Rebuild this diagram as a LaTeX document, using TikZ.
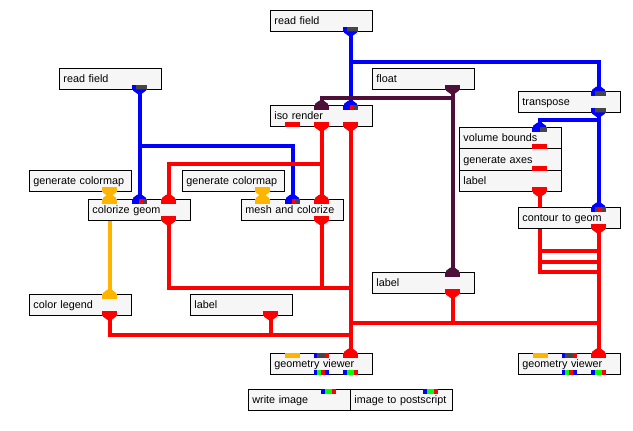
\documentclass[tikz,border=0pt]{standalone}
\usepackage{fontspec}
\setmainfont{Liberation Sans}
\usetikzlibrary{calc}
\pgfdeclarelayer{bg}
\pgfdeclarelayer{wires}
\pgfsetlayers{bg,wires,main}
\definecolor{pblue}{RGB}{0,0,255}
\definecolor{pred}{RGB}{255,0,0}
\definecolor{ppurple}{RGB}{77,16,56}
\definecolor{porange}{RGB}{255,180,0}
\definecolor{pgrey}{RGB}{70,70,70}
\definecolor{pgreen}{RGB}{0,255,0}
\definecolor{boxfill}{RGB}{246,246,246}
\tikzset{
  box/.style={draw=black, line width=0.9pt, fill=boxfill, anchor=north west,
    minimum height=20.5pt, inner xsep=4pt, inner ysep=0pt, text width=94pt,
    text height=9pt, text depth=1pt, align=left, font=\fontsize{10.8}{12}\selectfont},
  wire/.style={line width=4pt, line join=miter},
}
\newcommand\portBot[4]{\fill[#1] ($(#2.south west)+(#3,-4.5)$) rectangle ($(#2.south west)+(#4,0.4)$);}
\newcommand\portTop[4]{\fill[#1] ($(#2.north west)+(#3,-0.4)$) rectangle ($(#2.north west)+(#4,4.5)$);}
\newcommand\tipBot[2]{\fill[#1] ($(#2)+(-6.5,0)$) -- ++(13,0) -- ++(0,1.2) -- ++(-4.5,3.3) -- ++(-4,0) -- ++(-4.5,-3.3) -- cycle;}
\newcommand\tipTop[2]{\fill[#1] ($(#2)+(-6.5,0)$) -- ++(13,0) -- ++(0,-1.2) -- ++(-4.5,-3.3) -- ++(-4,0) -- ++(-4.5,3.3) -- cycle;}
\newcommand\gvports[1]{%
  \portTop{porange}{#1}{15}{30}
  \portTop{pblue}{#1}{44}{47}\portTop{pgrey}{#1}{47}{55}\portTop{pred}{#1}{55}{59}
  \portTop{pred}{#1}{73}{88}
  \portBot{pblue}{#1}{44}{47}\portBot{pgreen}{#1}{47}{51}\portBot{pred}{#1}{51}{55}\portBot{pblue}{#1}{55}{59}
  \portBot{pblue}{#1}{73}{77}\portBot{pgreen}{#1}{77}{84}\portBot{pred}{#1}{84}{88}}
\newcommand\imgports[1]{%
  \portTop{pblue}{#1}{73}{77}\portTop{pgreen}{#1}{77}{84}\portTop{pred}{#1}{84}{88}}
\newcommand\cmports[1]{%
  \portTop{porange}{#1}{14}{29}
  \portTop{pblue}{#1}{44}{51}\portTop{pred}{#1}{51}{55}\portTop{pgrey}{#1}{55}{59}
  \portTop{pred}{#1}{73}{88}
  \portBot{pred}{#1}{73}{88}}
\begin{document}
\begin{tikzpicture}[x=1pt,y=-1pt]
\useasboundingbox (0,0) rectangle (633,431);
\begin{pgfonlayer}{bg}
\fill[white] (0,0) rectangle (633,431);
\end{pgfonlayer}
% modules
\node[box] (rfA) at (270,10) {read field};
\node[box] (rfB) at (59,68) {read field};
\node[box] (flt) at (372,68) {float};
\node[box] (tra) at (518,91) {transpose};
\node[box] (iso) at (270,105) {iso render};
\node[box, minimum height=21pt] (vb) at (459,127) {volume bounds};
\node[box, minimum height=21.5pt] (ga) at (459,148) {generate axes};
\node[box, minimum height=21.5pt] (lb3) at (459,169.5) {label};
\node[box] (gcA) at (29,170) {generate colormap};
\node[box] (gcB) at (182,170) {generate colormap};
\node[box] (cg) at (88,199) {colorize geom};
\node[box] (mc) at (241,199) {mesh and colorize};
\node[box] (ctg) at (518,207) {contour to geom};
\node[box] (lb2) at (372,272) {label};
\node[box] (cl) at (29,294) {color legend};
\node[box] (lb1) at (190,294) {label};
\node[box] (gv1) at (270,353) {geometry viewer};
\node[box] (gv2) at (518,353) {geometry viewer};
\node[box] (wi) at (248,389) {write image};
\node[box] (ip) at (350,389) {image to postscript};
% port points
\coordinate (rfA-o) at ($(rfA.south west)+(80.5,0)$);
\coordinate (rfB-o) at ($(rfB.south west)+(80.5,0)$);
\coordinate (flt-o) at ($(flt.south west)+(80.5,0)$);
\coordinate (tra-i) at ($(tra.north west)+(80.5,0)$);
\coordinate (tra-o) at ($(tra.south west)+(80.5,0)$);
\coordinate (iso-i1) at ($(iso.north west)+(51.5,0)$);
\coordinate (iso-i2) at ($(iso.north west)+(80.5,0)$);
\coordinate (iso-o2) at ($(iso.south west)+(51.5,0)$);
\coordinate (iso-o3) at ($(iso.south west)+(80.5,0)$);
\coordinate (vb-i) at ($(vb.north west)+(80.5,0)$);
\coordinate (vb-o) at ($(vb.south west)+(80.5,0)$);
\coordinate (ga-o) at ($(ga.south west)+(80.5,0)$);
\coordinate (lb3-o) at ($(lb3.south west)+(80.5,0)$);
\coordinate (gcA-o) at ($(gcA.south west)+(80.5,0)$);
\coordinate (gcB-o) at ($(gcB.south west)+(80.5,0)$);
\coordinate (cg-io) at ($(cg.north west)+(21.5,0)$);
\coordinate (cg-i1) at ($(cg.north west)+(51.5,0)$);
\coordinate (cg-i2) at ($(cg.north west)+(80.5,0)$);
\coordinate (cg-oo) at ($(cg.south west)+(21.5,0)$);
\coordinate (cg-o) at ($(cg.south west)+(80.5,0)$);
\coordinate (mc-io) at ($(mc.north west)+(21.5,0)$);
\coordinate (mc-i1) at ($(mc.north west)+(51.5,0)$);
\coordinate (mc-i2) at ($(mc.north west)+(80.5,0)$);
\coordinate (mc-o) at ($(mc.south west)+(80.5,0)$);
\coordinate (ctg-i) at ($(ctg.north west)+(80.5,0)$);
\coordinate (ctg-o) at ($(ctg.south west)+(80.5,0)$);
\coordinate (lb2-i) at ($(lb2.north west)+(80.5,0)$);
\coordinate (lb2-o) at ($(lb2.south west)+(80.5,0)$);
\coordinate (cl-i) at ($(cl.north west)+(80.5,0)$);
\coordinate (cl-o) at ($(cl.south west)+(80.5,0)$);
\coordinate (lb1-o) at ($(lb1.south west)+(80.5,0)$);
\coordinate (gv1-i) at ($(gv1.north west)+(80.5,0)$);
\coordinate (gv2-i) at ($(gv2.north west)+(80.5,0)$);
% junctions
\coordinate (j1) at ($(rfA-o)+(0,31)$);
\coordinate (j2) at ($(flt-o)+(0,8.5)$);
\coordinate (j3) at ($(tra-o)+(0,8)$);
\coordinate (j4) at ($(rfB-o)+(0,56.5)$);
\coordinate (j5) at ($(iso-o2)+(0,37.5)$);
\coordinate (j7) at ($(cg-o)+(0,67.5)$);
\coordinate (j10) at ($(cl-o)+(0,19.5)$);
\coordinate (j12) at ($(lb2-o)+(0,30)$);
\coordinate (r1) at ($(vb-o)+(0,102)$);
\coordinate (r2) at ($(ga-o)+(0,91.5)$);
\coordinate (r3) at ($(lb3-o)+(0,80)$);
% connections
\begin{pgfonlayer}{wires}
\draw[wire,pblue] (rfA-o) -- (iso-i2);
\draw[wire,pblue] (j1) -| (tra-i);
\draw[wire,ppurple] (flt-o) -- (lb2-i);
\draw[wire,ppurple] (j2) -| (iso-i1);
\draw[wire,pblue] (tra-o) -- (ctg-i);
\draw[wire,pblue] (j3) -| (vb-i);
\draw[wire,pblue] (rfB-o) -- (cg-i1);
\draw[wire,pblue] (j4) -| (mc-i1);
\draw[wire,pred] (iso-o2) -- (mc-i2);
\draw[wire,pred] (j5) -| (cg-i2);
\draw[wire,pred] (iso-o3) -- (gv1-i);
\draw[wire,pred] (cg-o) -- (j7) -- (j7 -| iso-o3);
\draw[wire,pred] (mc-o) -- (mc-o |- j7);
\draw[wire,porange] (cg-oo) -- (cl-i);
\draw[wire,pred] (cl-o) -- (j10) -- (j10 -| iso-o3);
\draw[wire,pred] (lb1-o) -- (lb1-o |- j10);
\draw[wire,pred] (lb2-o) -- (j12);
\draw[wire,pred] (j12 -| iso-o3) -- (j12 -| ctg-o);
\draw[wire,pred] (ctg-o) -- (gv2-i);
\draw[wire,pred] (vb-o) -- (r1) -- (r1 -| ctg-o);
\draw[wire,pred] (ga-o) -- (r2) -- (r2 -| ctg-o);
\draw[wire,pred] (lb3-o) -- (r3) -- (r3 -| ctg-o);
\draw[wire,porange] (gcA-o) -- (cg-io);
\draw[wire,porange] (gcB-o) -- (mc-io);
\end{pgfonlayer}
% ports
\portBot{pblue}{rfA}{73}{77}\portBot{pgrey}{rfA}{77}{88}
\portBot{pblue}{rfB}{73}{76.5}\portBot{pgrey}{rfB}{76.5}{88}
\portBot{ppurple}{flt}{73}{88}
\portTop{pblue}{tra}{73}{77}\portTop{pgrey}{tra}{77}{88}
\portBot{pblue}{tra}{73}{77}\portBot{pgrey}{tra}{77}{88}
\portTop{ppurple}{iso}{44}{59}
\portTop{pblue}{iso}{73}{80}\portTop{pred}{iso}{80}{84}\portTop{pgrey}{iso}{84}{88}
\portBot{pred}{iso}{15}{30}\portBot{pred}{iso}{44}{59}\portBot{pred}{iso}{73}{88}
\portTop{pblue}{vb}{73}{81}\portTop{pgrey}{vb}{81}{88}
\portBot{pred}{vb}{73}{88}
\portBot{pred}{ga}{73}{88}
\portBot{pred}{lb3}{73}{88}
\portBot{porange}{gcA}{73}{88}
\portBot{porange}{gcB}{73}{88}
\cmports{cg}
\cmports{mc}
\portTop{pblue}{ctg}{73}{77}\portTop{pgrey}{ctg}{77}{80}\portTop{pred}{ctg}{80}{84}\portTop{pgrey}{ctg}{84}{88}
\portBot{pred}{ctg}{73}{88}
\portTop{ppurple}{lb2}{73}{88}\portBot{pred}{lb2}{73}{88}
\portTop{porange}{cl}{73}{88}\portBot{pred}{cl}{73}{88}
\portBot{pred}{lb1}{73}{88}
\gvports{gv1}
\gvports{gv2}
\imgports{wi}
\imgports{ip}
% connector tips
\tipBot{pblue}{rfA-o}\tipBot{pblue}{rfB-o}\tipBot{ppurple}{flt-o}\tipBot{pblue}{tra-o}
\tipBot{pred}{iso-o2}\tipBot{pred}{iso-o3}\tipBot{pred}{lb3-o}
\tipBot{porange}{gcA-o}\tipBot{porange}{gcB-o}
\tipBot{pred}{cg-o}\tipBot{pred}{mc-o}\tipBot{pred}{ctg-o}
\tipBot{pred}{lb2-o}\tipBot{pred}{cl-o}\tipBot{pred}{lb1-o}
\tipTop{pblue}{tra-i}\tipTop{ppurple}{iso-i1}\tipTop{pblue}{iso-i2}\tipTop{pblue}{vb-i}
\tipTop{porange}{cg-io}\tipTop{pblue}{cg-i1}\tipTop{pred}{cg-i2}
\tipTop{porange}{mc-io}\tipTop{pblue}{mc-i1}\tipTop{pred}{mc-i2}
\tipTop{pblue}{ctg-i}\tipTop{ppurple}{lb2-i}\tipTop{porange}{cl-i}
\tipTop{pred}{gv1-i}\tipTop{pred}{gv2-i}
\end{tikzpicture}
\end{document}
